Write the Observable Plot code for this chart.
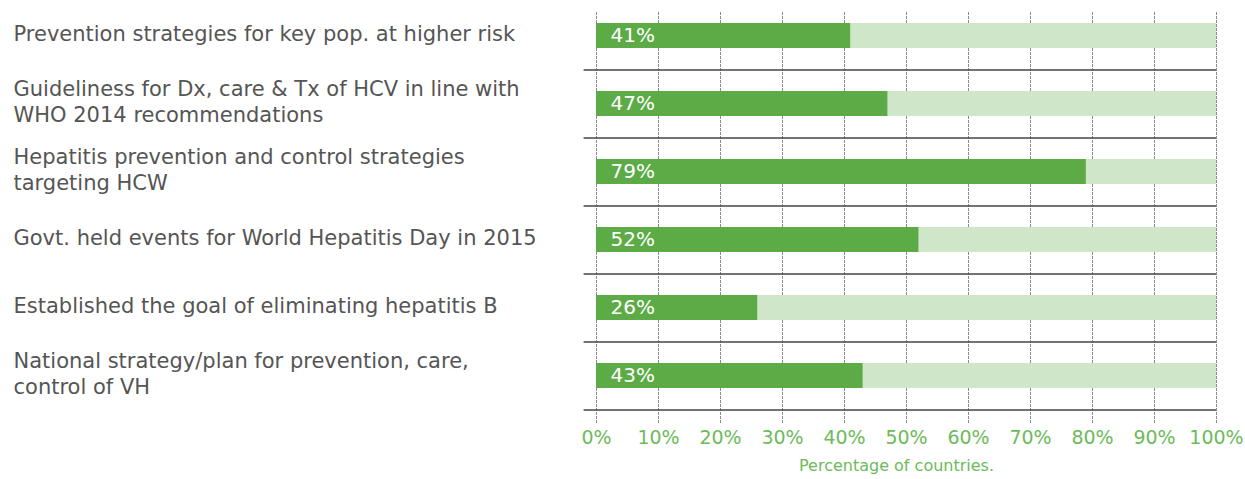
<!DOCTYPE html>
<html><head><meta charset="utf-8">
<script src="https://cdn.jsdelivr.net/npm/d3@7"></script>
<script src="https://cdn.jsdelivr.net/npm/@observablehq/plot@0.6"></script>
<style>body{margin:0;background:#fff}</style>
</head><body><div id="chart"></div>
<script>
const categories = [
  "Prevention strategies for key pop. at higher risk",
  "Guideliness for Dx, care & Tx of HCV in line with\nWHO 2014 recommendations",
  "Hepatitis prevention and control strategies\ntargeting HCW",
  "Govt. held events for World Hepatitis Day in 2015",
  "Established the goal of eliminating hepatitis B",
  "National strategy/plan for prevention, care,\ncontrol of VH"
];
const values = [41, 47, 79, 52, 26, 43];
const xTicks = [0, 10, 20, 30, 40, 50, 60, 70, 80, 90, 100];
const axisTitle = "Percentage of countries.";

const data = categories.map((c, i) => ({category: c, value: values[i]}));
const W = 1245, H = 479, mL = 596, mR = 29, mT = 2, mB = 69;
const step = (H - mT - mB) / categories.length;
const pad = 0.63;

const plot = Plot.plot({
  width: W, height: H,
  marginLeft: mL, marginRight: mR, marginTop: mT, marginBottom: mB,
  style: {fontFamily: "'DejaVu Sans', sans-serif", background: "white"},
  x: {domain: [0, 100], axis: null},
  y: {domain: categories, paddingInner: pad, paddingOuter: pad / 2, axis: null},
  marks: [
    Plot.ruleX(xTicks, {x: d => d, stroke: "#8a8a8a", strokeDasharray: "3,1", insetTop: 10, insetBottom: -13}),
    Plot.ruleY(categories, {y: d => d, dy: step / 2, x1: -2, x2: 100, stroke: "#444", strokeWidth: 1.3}),
    Plot.barX(data, {y: "category", x1: 0, x2: 100, fill: "#cfe6c9"}),
    Plot.barX(data, {y: "category", x: "value", fill: "#5dab47"}),
    Plot.text(data, {y: "category", x: 0, text: d => d.value + "%", dx: 14, textAnchor: "start", fill: "white", fontSize: 20}),
    Plot.text(data, {y: "category", frameAnchor: "left", dx: -583, dy: -3, text: "category", textAnchor: "start", fill: "#555", fontSize: 21, lineHeight: 1.2}),
    Plot.axisX({ticks: xTicks, tickFormat: d => d + "%", tickSize: 0, tickPadding: 20, fill: "#6cbb5a", fontSize: 19, label: null}),
    Plot.text([axisTitle], {frameAnchor: "bottom", dy: 60, dx: -10, text: d => d, fill: "#6cbb5a", fontSize: 16})
  ]
});
document.getElementById("chart").appendChild(plot);
</script>
</body></html>
